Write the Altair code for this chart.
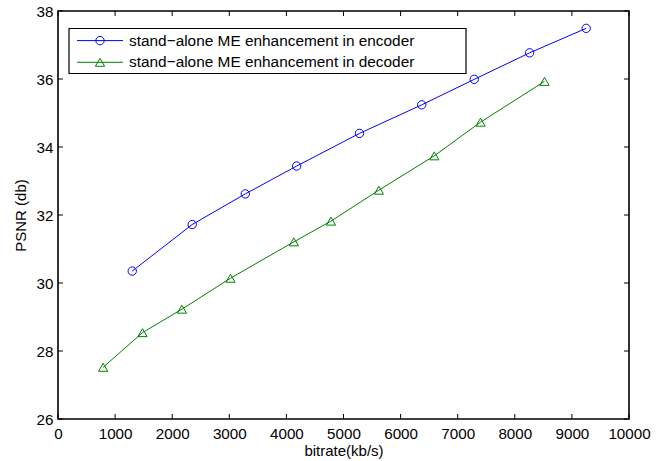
import altair as alt
import pandas as pd

# ---- data ----
enc_x = [1300, 2350, 3280, 4180, 5280, 6370, 7290, 8260, 9250]
enc_y = [30.35, 31.72, 32.62, 33.44, 34.40, 35.24, 35.99, 36.77, 37.49]
dec_x = [790, 1480, 2170, 3020, 4130, 4780, 5620, 6590, 7400, 8520]
dec_y = [27.52, 28.54, 29.23, 30.14, 31.21, 31.82, 32.73, 33.74, 34.73, 35.93]
x_ticks = [0, 1000, 2000, 3000, 4000, 5000, 6000, 7000, 8000, 9000, 10000]
y_ticks = [26, 28, 30, 32, 34, 36, 38]
labels = ["stand\u2212alone ME enhancement in encoder",
          "stand\u2212alone ME enhancement in decoder"]

W, H = 571, 408
FONT = "Liberation Sans"
BLUE = "#0000ff"
GREEN = "#008000"

enc = pd.DataFrame({"x": enc_x, "y": enc_y})
dec = pd.DataFrame({"x": dec_x, "y": dec_y})
xt = pd.DataFrame({"t": x_ticks})
yt = pd.DataFrame({"t": y_ticks})

xscale = alt.Scale(domain=[0, 10000], nice=False, zero=False)
yscale = alt.Scale(domain=[26, 38], nice=False, zero=False)

x_axis = alt.Axis(values=x_ticks, ticks=False, domain=False, grid=False,
                  labelFont=FONT, labelFontSize=15.2, labelColor="black",
                  labelFlush=False, labelBaseline="alphabetic", labelPadding=19,
                  title="bitrate(kb/s)", titleFont=FONT, titleFontSize=15,
                  titleFontWeight="normal", titleColor="black",
                  titleBaseline="alphabetic", titleY=36, titleX=W / 2,
                  format="d")
y_axis = alt.Axis(values=y_ticks, ticks=False, domain=False, grid=False,
                  labelFont=FONT, labelFontSize=15.2, labelColor="black",
                  labelFlush=False, labelPadding=5,
                  title="PSNR (db)", titleFont=FONT, titleFontSize=15,
                  titleFontWeight="normal", titleColor="black",
                  titleAngle=-90, titleX=-30, titleY=204, titleAlign="center",
                  format="d")

enc_line = alt.Chart(enc).mark_line(color=BLUE, strokeWidth=1).encode(
    x=alt.X("x:Q", scale=xscale, axis=x_axis),
    y=alt.Y("y:Q", scale=yscale, axis=y_axis),
)
enc_pts = alt.Chart(enc).mark_point(shape="circle", filled=False, color=BLUE,
                                    size=70, strokeWidth=1, opacity=1).encode(
    x=alt.X("x:Q", scale=xscale), y=alt.Y("y:Q", scale=yscale))
dec_line = alt.Chart(dec).mark_line(color=GREEN, strokeWidth=1).encode(
    x=alt.X("x:Q", scale=xscale), y=alt.Y("y:Q", scale=yscale))
dec_pts = alt.Chart(dec).mark_point(shape="triangle-up", filled=False, color=GREEN,
                                    size=85, strokeWidth=1, opacity=1).encode(
    x=alt.X("x:Q", scale=xscale), y=alt.Y("y:Q", scale=yscale))

# inward ticks on all four sides
tk = dict(color="black", strokeWidth=1)
xb = alt.Chart(xt).mark_rule(**tk).encode(
    x=alt.X("t:Q", scale=xscale), y=alt.value(H), y2=alt.value(H - 5))
xtp = alt.Chart(xt).mark_rule(**tk).encode(
    x=alt.X("t:Q", scale=xscale), y=alt.value(0), y2=alt.value(5))
yl = alt.Chart(yt).mark_rule(**tk).encode(
    y=alt.Y("t:Q", scale=yscale), x=alt.value(0), x2=alt.value(5))
yr = alt.Chart(yt).mark_rule(**tk).encode(
    y=alt.Y("t:Q", scale=yscale), x=alt.value(W), x2=alt.value(W - 5))

# manual legend
leg = pd.DataFrame({"label": labels})
box = alt.Chart(leg.head(1)).mark_rect(fill="white", stroke="black", strokeWidth=1.2).encode(
    x=alt.value(11), x2=alt.value(408), y=alt.value(17.5), y2=alt.value(62.5))
rows = [(29.6, BLUE, "circle", 70), (51.3, GREEN, "triangle-up", 85)]
legend_layers = [box]
for i, (ry, col, shp, sz) in enumerate(rows):
    d = leg.iloc[[i]]
    legend_layers.append(alt.Chart(d).mark_rule(color=col, strokeWidth=1).encode(
        x=alt.value(19), x2=alt.value(65), y=alt.value(ry)))
    legend_layers.append(alt.Chart(d).mark_point(shape=shp, filled=False, color=col,
                                                  size=sz, strokeWidth=1, opacity=1).encode(
        x=alt.value(42), y=alt.value(ry)))
    legend_layers.append(alt.Chart(d).mark_text(align="left", baseline="middle",
                                                 font=FONT, fontSize=15.4, color="black").encode(
        x=alt.value(71), y=alt.value(ry), text="label:N"))

chart = alt.layer(enc_line, dec_line, enc_pts, dec_pts, xb, xtp, yl, yr,
                  *legend_layers).properties(
    width=W, height=H,
    background="white",
    padding={"left": 58, "top": 11, "right": 33, "bottom": 42},
    autosize=alt.AutoSizeParams(type="none"),
).configure_view(stroke="black", strokeWidth=1.6)

chart.save("out.html", embed_options={"renderer": "svg", "actions": False})
